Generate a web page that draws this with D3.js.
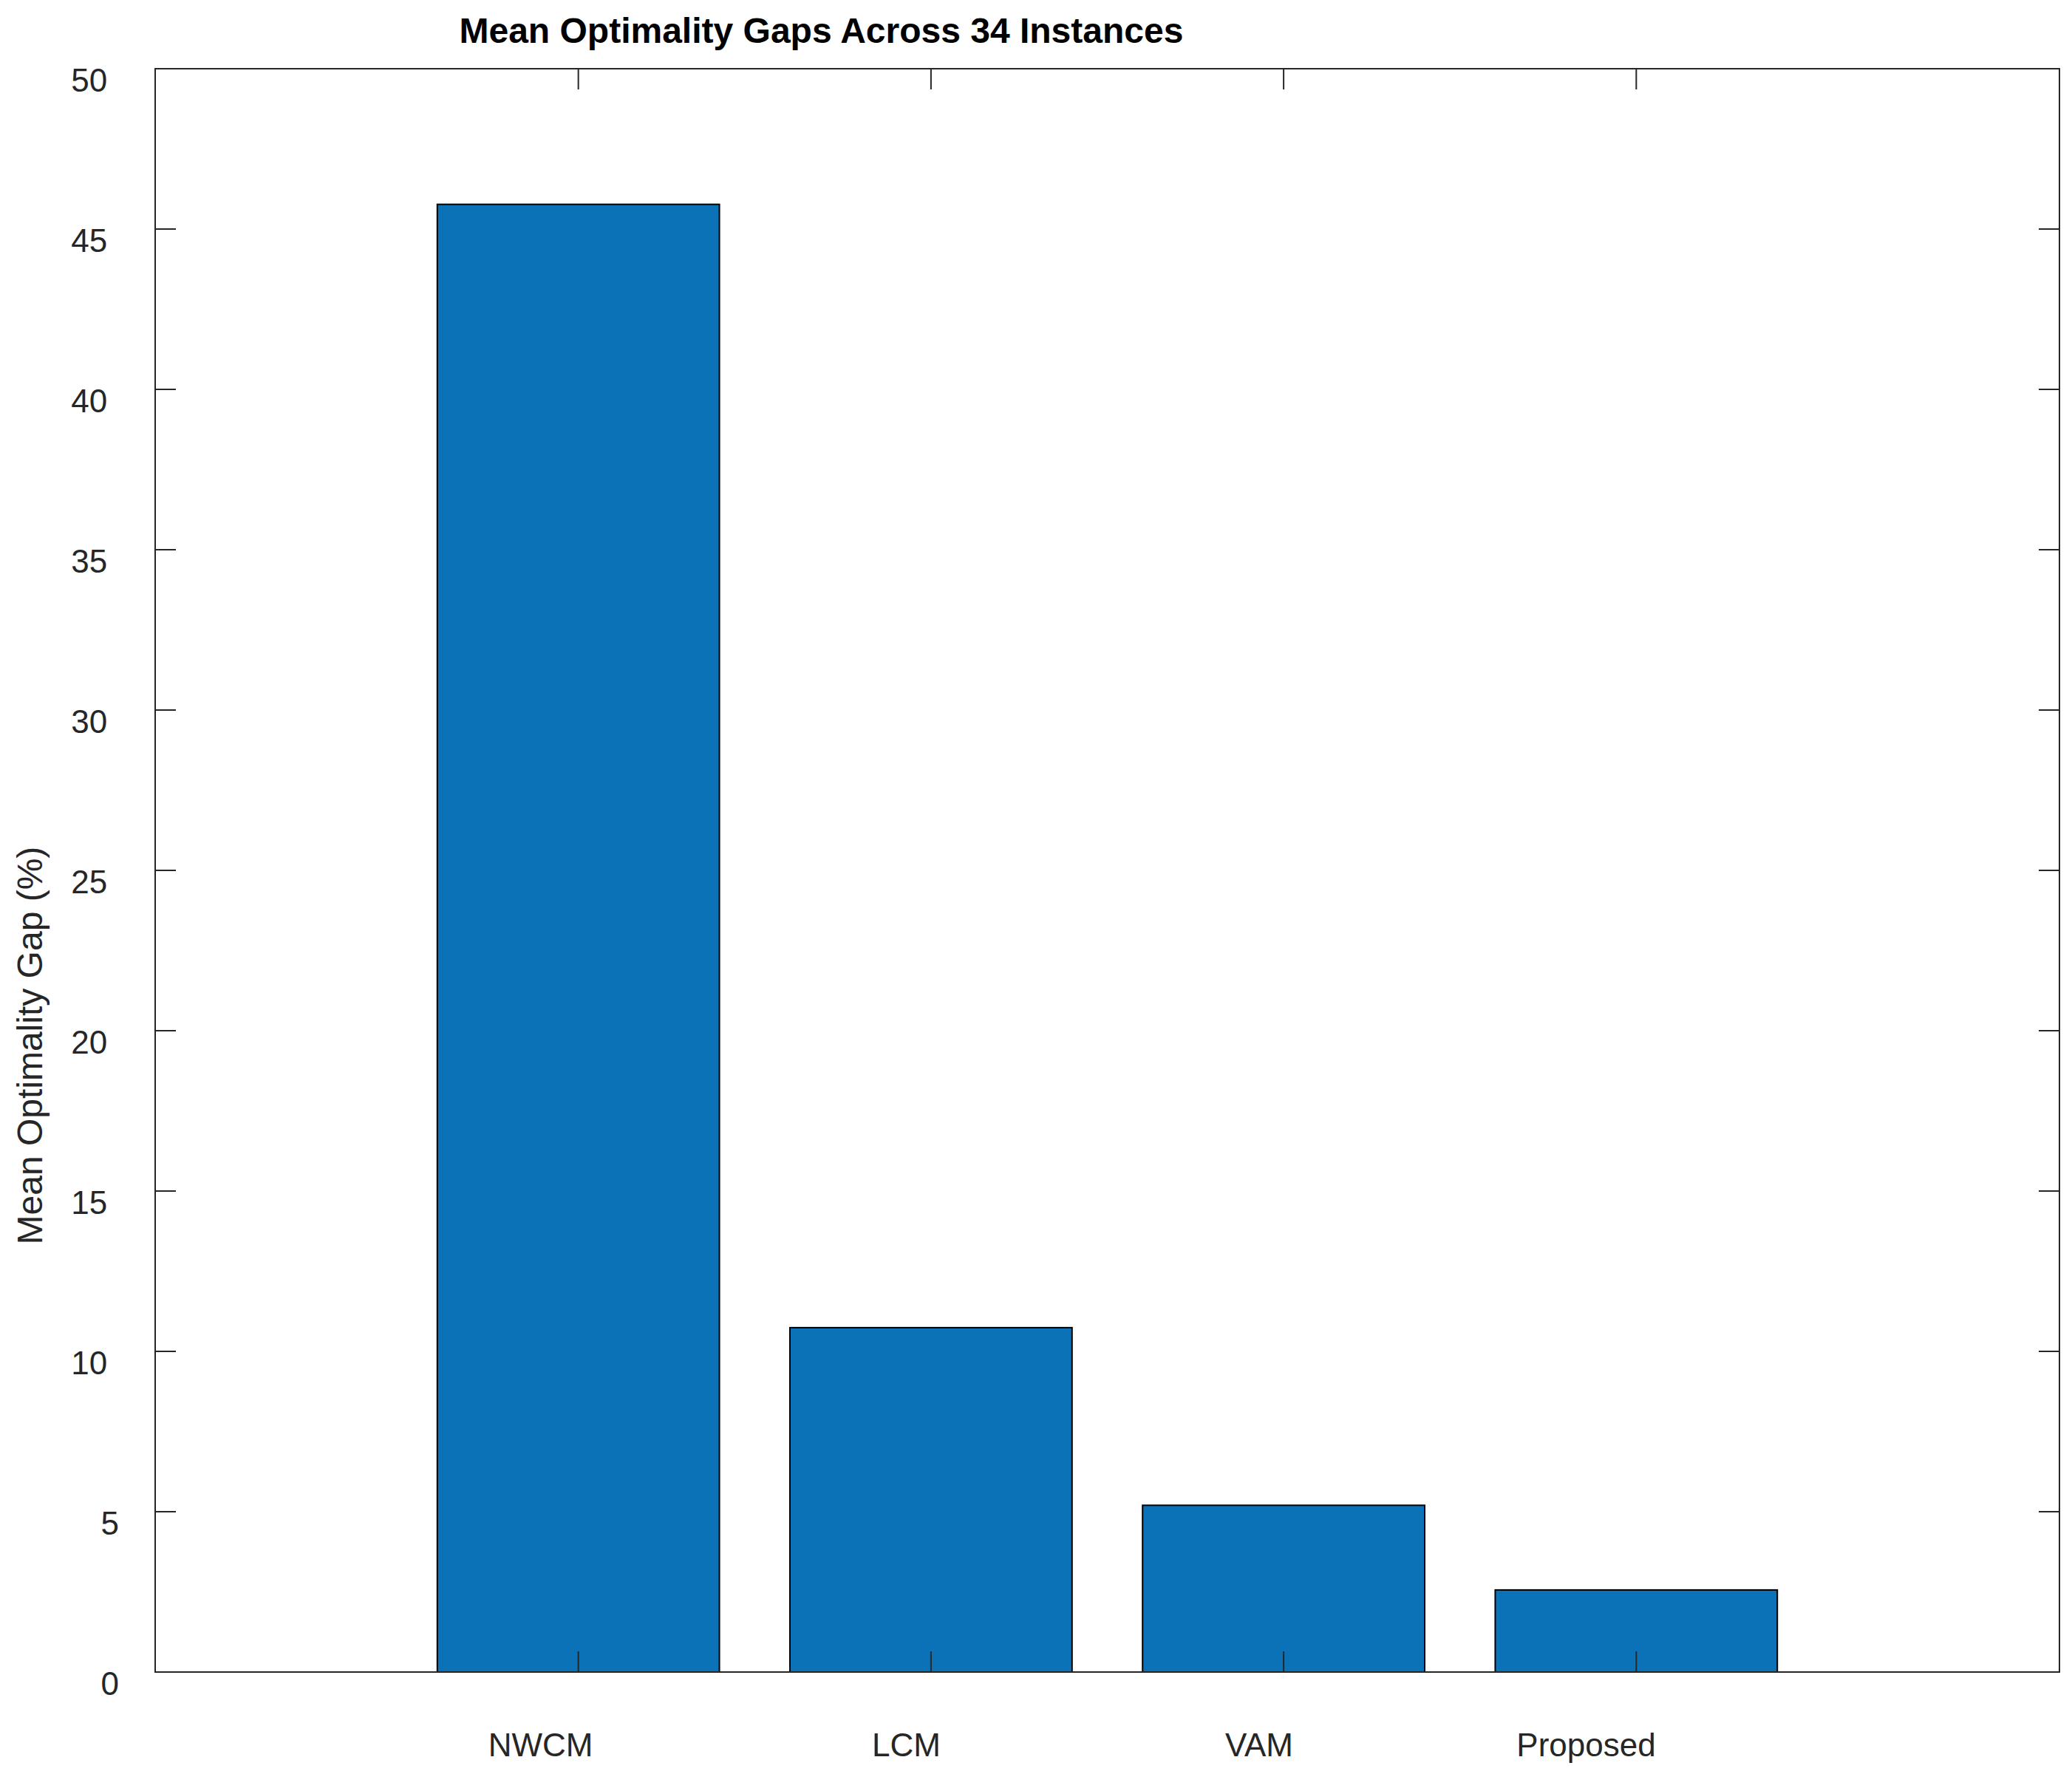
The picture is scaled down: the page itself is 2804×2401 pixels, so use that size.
<!DOCTYPE html>
<html>
<head>
<meta charset="utf-8">
<script src="https://cdn.jsdelivr.net/npm/d3@7"></script>
<style>
  body { margin: 0; background: #fff; }
  text { font-family: "Liberation Sans", Arial, Helvetica, sans-serif; fill: #262626; }
  .axis-line { stroke: #262626; stroke-width: 2; fill: none; }
  .bar { fill: #0b72b7; stroke: #000; stroke-width: 2; }
</style>
</head>
<body>
<script>
// data
const categories = ["NWCM", "LCM", "VAM", "Proposed"];
const gaps = [45.77, 10.74, 5.20, 2.56];
const yTickValues = [0, 5, 10, 15, 20, 25, 30, 35, 40, 45, 50];
const titleText = "Mean Optimality Gaps Across 34 Instances";
const yLabelText = "Mean Optimality Gap (%)";

let margin = null,
    width = null,
    height = null,
    svg = null;
let x, y = null;
const tickLen = 28;

setupCanvasSize();
appendSvg("body");
setupXScale();
setupYScale();
appendBars();
appendAxes();
appendTitles();

function setupCanvasSize() {
  margin = {top: 93, left: 210, bottom: 138, right: 17};
  width = 2804 - margin.left - margin.right;
  height = 2401 - margin.top - margin.bottom;
}

function appendSvg(domElement) {
  svg = d3.select(domElement).append("svg")
      .attr("width", width + margin.left + margin.right)
      .attr("height", height + margin.top + margin.bottom)
    .append("g")
      .attr("transform", `translate(${margin.left}, ${margin.top})`);
}

function setupXScale() {
  // bars sit at 1..n, matlab-like limits
  x = d3.scaleLinear()
      .domain([-0.2, categories.length + 1.2])
      .range([0, width]);
}

function setupYScale() {
  y = d3.scaleLinear()
      .domain([0, 50])
      .range([height, 0]);
}

function appendBars() {
  const bw = x(0.8) - x(0);
  svg.selectAll(".bar")
    .data(gaps)
    .enter().append("rect")
      .attr("class", "bar")
      .attr("x", (d, i) => x(i + 1) - bw / 2)
      .attr("width", bw)
      .attr("y", d => y(d))
      .attr("height", d => y(0) - y(d));
}

function appendAxes() {
  const xt = categories.map((c, i) => i + 1);

  // bottom & top ticks (inward)
  svg.append("g").selectAll("line").data(xt).enter().append("line")
    .attr("class", "axis-line")
    .attr("x1", d => x(d)).attr("x2", d => x(d))
    .attr("y1", height).attr("y2", height - tickLen);
  svg.append("g").selectAll("line").data(xt).enter().append("line")
    .attr("class", "axis-line")
    .attr("x1", d => x(d)).attr("x2", d => x(d))
    .attr("y1", 0).attr("y2", tickLen);

  // left & right ticks
  svg.append("g").selectAll("line").data(yTickValues).enter().append("line")
    .attr("class", "axis-line")
    .attr("x1", 0).attr("x2", tickLen)
    .attr("y1", d => y(d)).attr("y2", d => y(d));
  svg.append("g").selectAll("line").data(yTickValues).enter().append("line")
    .attr("class", "axis-line")
    .attr("x1", width).attr("x2", width - tickLen)
    .attr("y1", d => y(d)).attr("y2", d => y(d));

  // box
  svg.append("rect")
    .attr("class", "axis-line")
    .attr("x", 0).attr("y", 0)
    .attr("width", width).attr("height", height);

  // y tick labels (offset like the reference render)
  svg.append("g").selectAll("text").data(yTickValues).enter().append("text")
    .attr("font-size", 44)
    .attr("y", d => y(d) + 31)
    .text(d => d)
    .attr("x", function() { return -33 - 1.65 * this.getComputedTextLength(); });

  // x tick labels
  svg.append("g").selectAll("text").data(categories).enter().append("text")
    .attr("font-size", 44)
    .attr("y", height + 114)
    .text(d => d)
    .attr("x", function(d, i) { return x(i + 1) - 0.86 * this.getComputedTextLength(); });
}

function appendTitles() {
  svg.append("text")
    .attr("font-size", 48)
    .attr("font-weight", "bold")
    .attr("y", -35)
    .style("fill", "#000")
    .text(titleText)
    .attr("x", function() { return width / 2 - 0.895 * this.getComputedTextLength(); });

  svg.append("text")
    .attr("font-size", 48)
    .text(yLabelText)
    .each(function() {
      const len = this.getComputedTextLength();
      const cy = height / 2 + 0.94 * len;
      d3.select(this).attr("transform", `translate(${57 - margin.left}, ${cy}) rotate(-90)`);
    });
}
</script>
</body>
</html>
